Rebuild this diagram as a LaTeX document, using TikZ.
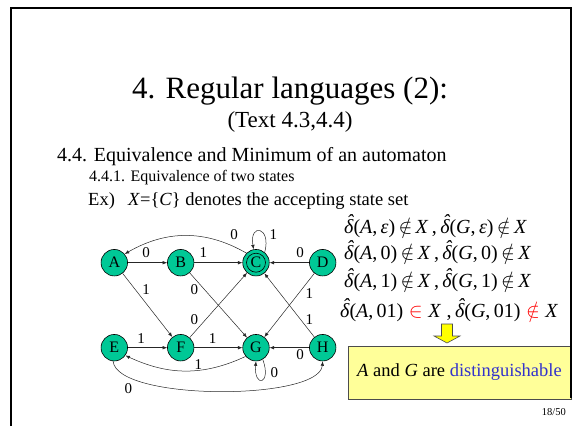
\documentclass[tikz,border=0pt]{standalone}
\usepackage{fontspec}
\setmainfont{Liberation Serif}
\usetikzlibrary{arrows.meta}
\definecolor{stgreen}{RGB}{0,200,150}
\definecolor{boxyellow}{RGB}{255,255,153}
\definecolor{distblue}{RGB}{51,51,204}
\definecolor{arrowyellow}{RGB}{255,255,0}
\newcommand{\dhatd}{{\itshape\ooalign{δ\cr\hidewidth\kern0.12em\raisebox{0.24em}{ˆ}\hidewidth\cr}}}
\newcommand{\eqsep}{\,}
\begin{document}
\begin{tikzpicture}[x=1pt,y=1pt,
  state/.style={circle,draw=black,line width=0.6pt,fill=stgreen,minimum size=26.5pt,inner sep=0pt,font=\fontsize{16}{16}\selectfont},
  edge/.style={draw=black!85,line width=0.5pt,-{Latex[length=4.5pt,width=3.5pt]}},
  lbl/.style={font=\fontsize{15}{15}\selectfont,inner sep=0pt},
  txt/.style={inner sep=0pt,anchor=base west},
  eqn/.style={inner sep=0pt,anchor=base west,font=\fontsize{20}{20}\selectfont}]
\useasboundingbox (0,0) rectangle (573,-426);
% titles
\node[anchor=base,inner sep=0pt,font=\fontsize{31}{31}\selectfont] (t1) at (290,-98) {4. Regular languages (2):};
\node[anchor=base,inner sep=0pt,font=\fontsize{23}{23}\selectfont] (t2) at (290,-127) {(Text 4.3,4.4)};
\node[txt,font=\fontsize{20}{20}\selectfont] (h1) at (57,-161) {4.4. Equivalence and Minimum of an automaton};
\node[txt,font=\fontsize{16}{16}\selectfont] (h2) at (89,-181) {4.4.1. Equivalence of two states};
\node[txt,font=\fontsize{18.5}{18.5}\selectfont] (ex) at (88,-205) {Ex)};
\node[txt,font=\fontsize{18.5}{18.5}\selectfont] (xc) at (128,-205) {\textit{X}=\{\textit{C}\} denotes the accepting state set};
% equations
\node[eqn] (e1) at (344,-233) {\dhatd(\textit{A},\eqsep\textit{ε})\,$\notin$\,\textit{X}\,,\,\dhatd(\textit{G},\eqsep\textit{ε})\,$\notin$\,\textit{X}};
\node[eqn] (e2) at (344,-259.5) {\dhatd(\textit{A},\eqsep 0)\,$\notin$\,\textit{X}\,,\,\dhatd(\textit{G},\eqsep 0)\,$\notin$\,\textit{X}};
\node[eqn] (e3) at (344,-287) {\dhatd(\textit{A},\eqsep 1)\,$\notin$\,\textit{X}\,,\,\dhatd(\textit{G},\eqsep 1)\,$\notin$\,\textit{X}};
\node[eqn] (e4) at (340,-317) {\dhatd(\textit{A},\eqsep 01)\;\textcolor{red}{$\in$}\;\textit{X}\;,\,\dhatd(\textit{G},\eqsep 01)\;\textcolor{red}{$\notin$}\;\textit{X}};
% block arrow
\draw[fill=arrowyellow,draw=black!70,line width=0.6pt] (441.5,-324) -- (452.5,-324) -- (452.5,-336) -- (460,-336) -- (447,-343) -- (434,-336) -- (441.5,-336) -- cycle;
% result box
\node[draw=black!70,line width=0.8pt,fill=boxyellow,minimum width=223pt,minimum height=53pt,inner sep=0pt,font=\fontsize{18.5}{18.5}\selectfont] (res) at (459.5,-372.5) {\textit{A} and \textit{G} are \textcolor{distblue}{distinguishable}};
\node[anchor=base east,inner sep=0pt,font=\fontsize{10.5}{10.5}\selectfont] (pg) at (566,-415) {18/50};
% frame
\draw[line width=2pt,line join=miter] (11,-426) -- (11,-8) -- (570.5,-8) -- (570.5,-398);
% states
\node[state] (A) at (114.3,-262.7) {A};
\node[state] (B) at (180.7,-262.7) {B};
\node[state] (C) at (256,-262.7) {C};
\draw[line width=0.6pt] (C) circle (9.5pt);
\node[state] (D) at (322.7,-262.7) {D};
\node[state] (E) at (114.3,-347.7) {E};
\node[state] (F) at (180.7,-347.7) {F};
\node[state] (G) at (256,-347.7) {G};
\node[state] (H) at (322.7,-347.7) {H};
% edges
\draw[edge] (A) -- (B);
\draw[edge] (B) -- (C);
\draw[edge] (D) -- (C);
\draw[edge] (A) -- (F);
\draw[edge] (B) -- (G);
\draw[edge] (F) -- (C);
\draw[edge] (D) -- (G);
\draw[edge] (H) -- (C);
\draw[edge] (E) -- (F);
\draw[edge] (F) -- (G);
\draw[edge] (H) -- (G);
\draw[edge] (C.135) to[out=150,in=30] (A.40);
\draw[edge] (C.50) .. controls +(75:27) and +(100:27) .. (C.100);
\draw[edge] (G.-140) to[out=-155,in=-25] (E.-35);
\draw[edge] (G.-60) .. controls +(-70:27) and +(-95:27) .. (G.-90);
\draw[edge] (E.-95) .. controls +(-85:40) and +(-95:40) .. (H.-90);
% labels
\node[lbl] (l1) at (146,-252.7) {0};
\node[lbl] (l2) at (203.3,-252.7) {1};
\node[lbl] (l3) at (234,-235) {0};
\node[lbl] (l4) at (273.3,-235) {1};
\node[lbl] (l5) at (300,-252.7) {0};
\node[lbl] (l6) at (146,-289.3) {1};
\node[lbl] (l7) at (194.3,-289.3) {0};
\node[lbl] (l8) at (194.3,-320) {0};
\node[lbl] (l9) at (309.3,-293.3) {1};
\node[lbl] (l10) at (309.3,-320) {1};
\node[lbl] (l11) at (141,-338.3) {1};
\node[lbl] (l12) at (212.7,-338.3) {1};
\node[lbl] (l13) at (300,-355) {0};
\node[lbl] (l14) at (198.3,-364.3) {1};
\node[lbl] (l15) at (274.3,-372.7) {0};
\node[lbl] (l16) at (128.3,-388.3) {0};
\end{tikzpicture}
\end{document}
